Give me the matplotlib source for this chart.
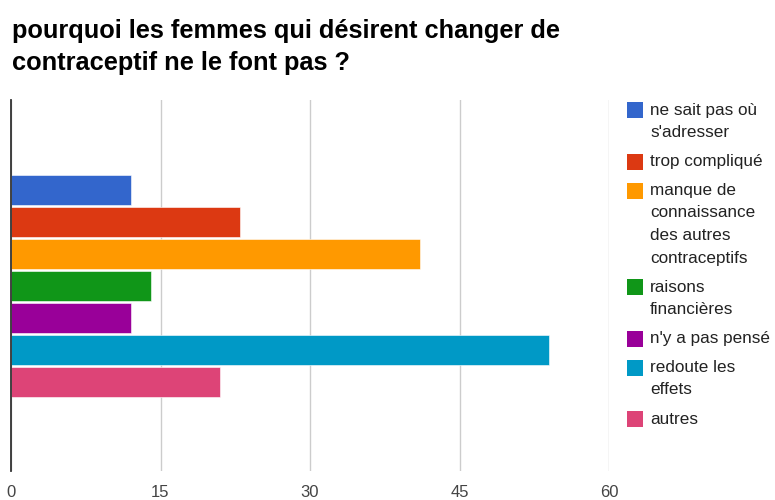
import matplotlib
matplotlib.use("Agg")
import matplotlib.pyplot as plt
from matplotlib.patches import Rectangle

plt.rcParams["font.family"] = ["Liberation Sans", "DejaVu Sans"]

# données
categories = ["ne sait pas où\ns'adresser", "trop compliqué",
              "manque de\nconnaissance\ndes autres\ncontraceptifs",
              "raisons\nfinancières", "n'y a pas pensé",
              "redoute les\neffets", "autres"]
values = [12, 23, 41, 14, 12, 54, 21]
colors = ["#3366cc", "#dc3912", "#ff9900", "#109618", "#990099", "#0099c6", "#dd4477"]
xticks = [0, 15, 30, 45, 60]

W, H = 775, 500
fig = plt.figure(figsize=(W / 100, H / 100), dpi=100)

def fx(px):
    return px / W

def fy(py):
    return 1 - py / H

left, right, top, bottom = 11, 609, 100, 471
ax = fig.add_axes([fx(left), fy(bottom), fx(right - left), (bottom - top) / H])

pos = list(range(len(values)))
ax.barh(pos, values, height=0.94, color=colors, edgecolor="white", linewidth=0.4, zorder=3)
ax.set_ylim(6.5 + 2.28, -0.5 - 2.31)
ax.set_xlim(0, 60)
ax.set_xticks(xticks)
ax.set_xticklabels([str(t) for t in xticks])
ax.set_yticks([])
ax.tick_params(axis="x", length=0, pad=10, labelsize=12, labelcolor="#444444")
ax.grid(axis="x", color="#cccccc", linewidth=1, zorder=0)
for s in ["top", "right", "bottom"]:
    ax.spines[s].set_visible(False)
ax.spines["left"].set_color("#333333")
ax.spines["left"].set_linewidth(1.3)
ax.spines["left"].set_zorder(4)

# titre
fig.text(fx(12), fy(19), "pourquoi les femmes qui désirent changer de\ncontraceptif ne le font pas ?",
         fontsize=18.3, fontweight="bold", color="#000000", ha="left", va="top", linespacing=1.42)

# légende
y = 110
for lab, c in zip(categories, colors):
    lines = lab.split("\n")
    fig.add_artist(Rectangle((fx(627), fy(y + 8)), fx(16), 16 / H, facecolor=c,
                             edgecolor="none", transform=fig.transFigure))
    for i, ln in enumerate(lines):
        fig.text(fx(650), fy(y + i * 22.5), ln, fontsize=12.3, color="#222222",
                 ha="left", va="center")
    y += (len(lines) - 1) * 22.5 + 29

fig.savefig("out.png", dpi=100)
